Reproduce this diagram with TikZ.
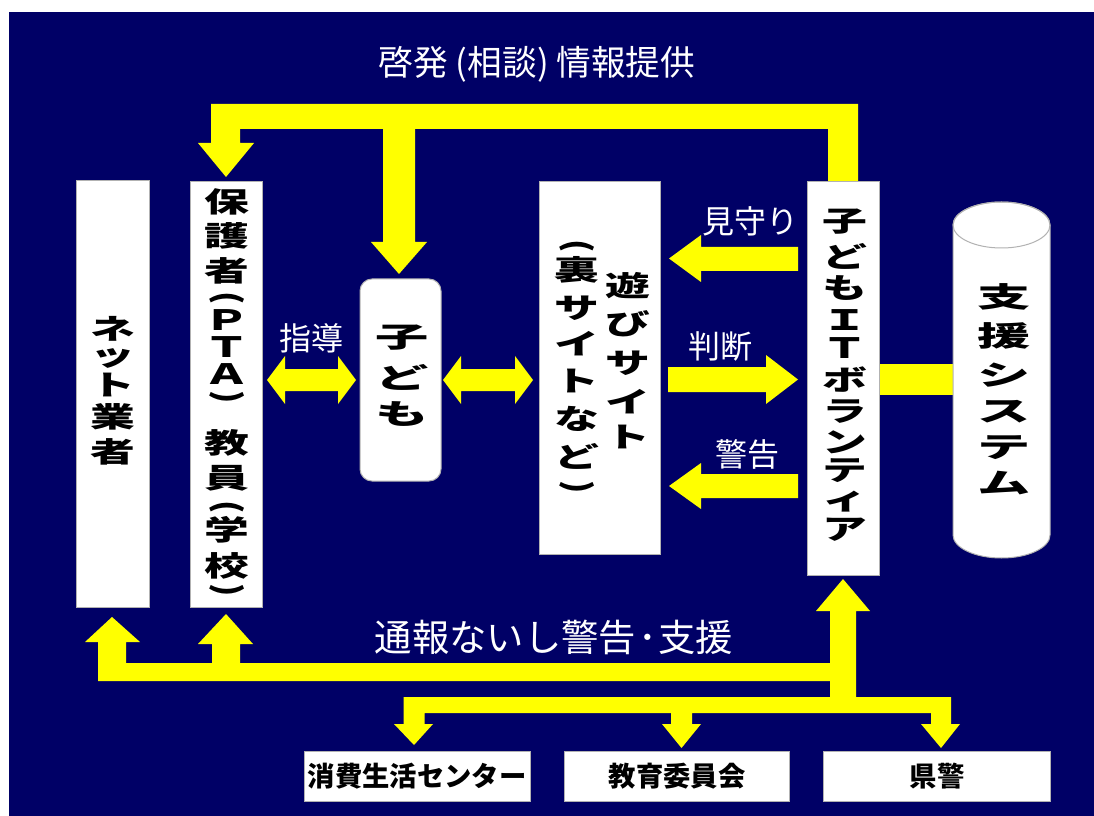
\documentclass[tikz,border=0pt]{standalone}
\usepackage{fontspec}
\newfontfamily\jp{Noto Sans CJK JP}
\newfontfamily\jpv{Noto Sans CJK JP}[FakeStretch=1.6]
\newfontfamily\jpvv{Noto Sans CJK JP}[FakeStretch=1.9]
\usetikzlibrary{fit}
\definecolor{navy}{RGB}{0,0,102}
\definecolor{ylw}{RGB}{255,255,0}
\begin{document}
\begin{tikzpicture}[x=0.75pt,y=-0.75pt,
  box/.style={draw=gray!60, line width=0.75pt, fill=white, inner sep=0pt},
  ch/.style={font=\jpv\bfseries\fontsize{21}{21}\selectfont, inner sep=0pt, text=black},
  chw/.style={font=\jpvv\bfseries\fontsize{21}{21}\selectfont, inner sep=0pt, text=black},
  par/.style={font=\jp\bfseries\fontsize{25}{25}\selectfont, inner sep=0pt, text=black, rotate=-90},
  btxt/.style={font=\jp\bfseries\fontsize{20.5}{20.5}\selectfont, inner sep=0pt, text=black},
  lbl/.style={font=\jp\fontsize{24}{24}\selectfont, text=white, inner sep=0pt},
  ya/.style={fill=ylw}
]
\useasboundingbox (0,0) rectangle (1094,816);
\fill[white] (0,0) rectangle (1094,816);
\fill[navy] (9,12) rectangle (1094,816);

% ---- yellow block arrows ----
% top feedback arrow
\fill[ya] (828,182) -- (828,129) -- (415,129) -- (415,242) -- (427,242) -- (399,274) -- (371,242) -- (383,242) -- (383,129)
  -- (240,129) -- (240,143) -- (254,143) -- (226,177) -- (198,143) -- (211,143) -- (211,104) -- (858,104) -- (858,182) -- cycle;
% mimamori
\fill[ya] (798,247) -- (701,247) -- (701,235) -- (669,258.5) -- (701,282) -- (701,271) -- (798,271) -- cycle;
% handan
\fill[ya] (668,367) -- (766,367) -- (766,355) -- (798,379.5) -- (766,404) -- (766,392) -- (668,392) -- cycle;
% keikoku
\fill[ya] (798,474) -- (701,474) -- (701,463) -- (669,486) -- (701,509) -- (701,498) -- (798,498) -- cycle;
% shido double arrow
\fill[ya] (267,380) -- (285,356) -- (285,369) -- (338,369) -- (338,356) -- (356,380) -- (338,404) -- (338,391) -- (285,391) -- (285,404) -- cycle;
% kodomo <-> site
\fill[ya] (443,380) -- (461,356) -- (461,369) -- (515,369) -- (515,356) -- (533,380) -- (515,404) -- (515,391) -- (461,391) -- (461,404) -- cycle;
% volunteer - system link
\fill[ya] (879,364) rectangle (960,395);
% bottom distribution arrow
\fill[ya] (843,579) -- (870,611) -- (856,611) -- (856,697) -- (951,697) -- (951,724) -- (960,724) -- (941,748) -- (921,724) -- (931,724)
  -- (931,713) -- (692,713) -- (692,724) -- (701,724) -- (681.5,748) -- (662,724) -- (671,724) -- (671,713)
  -- (424.5,713) -- (424.5,724) -- (433,724) -- (414,745) -- (394,724) -- (403.5,724) -- (403.5,697)
  -- (830,697) -- (830,681) -- (98,681) -- (98,642) -- (85,642) -- (112,617) -- (140,642) -- (126,642) -- (126,663)
  -- (212,663) -- (212,644) -- (198,644) -- (226,614) -- (253,644) -- (240,644) -- (240,663) -- (830,663) -- (830,611) -- (816,611) -- cycle;

% ---- boxes ----
\node[box, fit={(76,181) (149,607)}] (net) {};
\node[box, fit={(190,182) (262,607)}] (hogo) {};
\node[box, fit={(360,279) (441,481)}, rounded corners=9pt] (kodomo) {};
\node[box, fit={(539,182) (660,554)}] (site) {};
\node[box, fit={(807,182) (879,575)}] (vol) {};

% cylinder
\fill[white, draw=gray!60, line width=0.75pt] (953,225) -- (953,535) arc[start angle=180, end angle=0, x radius=48.5, y radius=23]
  -- (1050,225) arc[start angle=0, end angle=-180, x radius=48.5, y radius=23] -- cycle;
\draw[gray!60, line width=0.75pt] (1001.5,225) ellipse[x radius=48.5, y radius=23];
\node[inner sep=0pt, fit={(953,202) (1050,558)}] (sys) {};

% bottom boxes
\node[box, fit={(304,751) (530,801)}] (shohi) {};
\node[box, fit={(564,751) (789,801)}] (kyoiku) {};
\node[box, fit={(823,751) (1050,801)}] (kenkei) {};
\node[btxt] (shohi-t) at (417,776) {消費生活センター};
\node[btxt] (kyoiku-t) at (677,776) {教育委員会};
\node[btxt] (kenkei-t) at (937,776) {県警};

% ---- vertical texts ----
\foreach \c/\y [count=\i] in {ネ/329, ッ/358, ト/385, 業/417, 者/452}
  \node[ch] (net-\i) at (113,\y) {\c};
\foreach \c/\y [count=\i] in {保/202, 護/236, 者/271, Ｐ/320, Ｔ/347, Ａ/374, 教/443, 員/478, 学/530, 校/566}
  \node[ch] (hogo-\i) at (227,\y) {\c};
\node[par] (hogo-p1) at (227,298) {(};
\node[par] (hogo-p2) at (227,397) {)};
\node[par] (hogo-p3) at (227,507) {(};
\node[par] (hogo-p4) at (227,590) {)};
\foreach \c/\y [count=\i] in {子/338, ど/377, も/414}
  \node[chw] (kodomo-\i) at (402,\y) {\c};
\foreach \c/\y [count=\i] in {遊/286, び/324, サ/363, イ/402, ト/437}
  \node[ch] (siteA-\i) at (628,\y) {\c};
\foreach \c/\y [count=\i] in {裏/270, サ/308, イ/344, ト/381, な/419, ど/456}
  \node[ch] (siteB-\i) at (577,\y) {\c};
\node[par] (siteB-p1) at (577,246) {(};
\node[par] (siteB-p2) at (577,487) {)};
\foreach \c/\y [count=\i] in {子/222, ど/256, も/288, Ｉ/320, Ｔ/348, ボ/380, ラ/412, ン/442, テ/471, ィ/502, ア/530}
  \node[ch] (vol-\i) at (845,\y) {\c};
\foreach \c/\y [count=\i] in {支/297, 援/336, シ/375, ス/412, テ/448, ム/483}
  \node[chw] (sys-\i) at (1004,\y) {\c};

% ---- white labels ----
\node[lbl, font=\jp\fontsize{26}{26}\selectfont] (title) at (537,64) {啓発\kern0.22em(相談)\kern0.22em情報提供};
\node[lbl, font=\jp\fontsize{28}{28}\selectfont] (tsuho) at (554,637) {通報ないし警告\kern0.05em･\kern0.05em支援};
\node[lbl] (shido) at (311,338) {指導};
\node[lbl] (mimamori) at (750,221) {見守り};
\node[lbl] (handan) at (720,346) {判断};
\node[lbl] (keikoku) at (747,454) {警告};
\end{tikzpicture}
\end{document}
